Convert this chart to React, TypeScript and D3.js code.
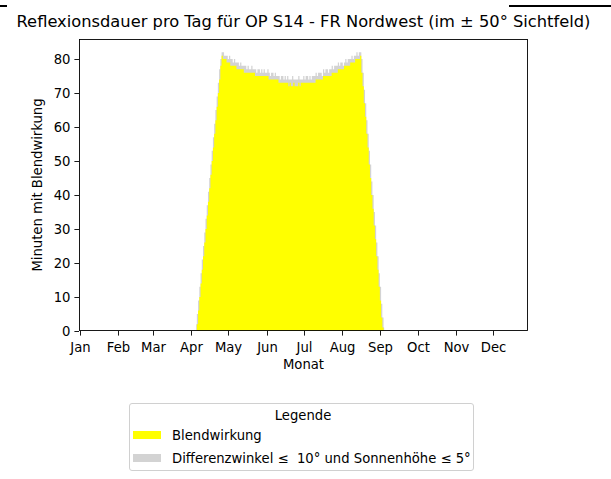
import * as d3 from "d3";

const title = "Reflexionsdauer pro Tag für OP S14 - FR Nordwest (im ± 50° Sichtfeld)";
const monthLabels = ["Jan", "Feb", "Mar", "Apr", "May", "Jun", "Jul", "Aug", "Sep", "Oct", "Nov", "Dec"];
const monthStartDays = [0, 31, 59, 90, 120, 151, 181, 212, 243, 273, 304, 334];
const yTicks = [0, 10, 20, 30, 40, 50, 60, 70, 80];

// minutes per day, first entry is day-of-year 94
const firstDay = 94;
const blendMinutes = [
    0, 2, 6, 10, 14, 18, 22, 26, 30, 34, 38, 42, 46, 50, 54, 58, 62, 66, 70, 74, 78, 81,
    80, 80, 80, 79, 79, 79, 78, 78, 78, 78, 78, 77, 77, 77, 77, 77, 77,
    76, 76, 76, 76, 76, 76, 76, 76, 76,
    75, 75, 75, 75, 75, 75, 75, 75, 75, 75, 75,
    74, 74, 74, 74, 74, 74, 74, 74,
    73, 73, 73, 73, 73, 73, 73, 73,
    72, 73, 72, 72, 73, 72, 72, 72, 73, 72, 73,
    73, 73, 73, 73, 73, 73, 73, 73, 73, 73, 73,
    74, 74, 74, 74, 74, 74,
    75, 75, 75, 75, 75, 75, 75,
    76, 76, 76, 76, 76,
    77, 77, 77, 77, 77,
    78, 78, 78, 78, 78,
    79, 79, 79, 79,
    80, 80, 80, 80,
    81,
    76, 72, 67, 63, 58, 54, 49, 45, 40, 36, 31, 27, 22, 18, 13, 9, 4, 1, 0
];
const angleMinutes = [
    2, 5, 9, 13, 17, 21, 25, 29, 33, 37, 41, 45, 49, 53, 57, 61, 65, 69, 73, 77, 80, 82,
    82, 81, 81, 81, 80, 81, 80, 80, 79, 80, 79, 79, 79, 78, 79, 78, 78,
    78, 78, 77, 78, 77, 77, 78, 77, 77,
    77, 76, 77, 77, 76, 77, 76, 77, 76, 76, 77,
    76, 75, 76, 76, 75, 76, 75, 75,
    75, 74, 75, 75, 74, 75, 74, 75,
    74, 74, 74, 75, 74, 74, 74, 74, 75, 74, 74,
    74, 75, 74, 75, 75, 74, 75, 74, 75, 75, 75,
    76, 75, 76, 76, 76, 75,
    77, 76, 77, 77, 76, 77, 77,
    78, 77, 78, 78, 78,
    79, 78, 79, 79, 78,
    79, 80, 79, 80, 80,
    80, 81, 80, 81,
    81, 82, 81, 82,
    82,
    80, 76, 71, 67, 62, 58, 53, 49, 44, 40, 35, 31, 26, 22, 17, 13, 8, 4, 1
];
const legendItems = [
    {label: "Blendwirkung", color: "#ffff00"},
    {label: "Differenzwinkel ≤  10° und Sonnenhöhe ≤ 5°", color: "#d3d3d3"}
];

const W = 611, H = 479;
const left = 79, right = 528, top = 39, bottom = 331;
const font = "DejaVu Sans, sans-serif";
const fs = 13.2;

export default function App() {
    const x = d3.scaleLinear([-0.8, 362.3], [left, right]);
    const y = d3.scaleLinear([0, 85.9], [bottom, top]);

    const area = d3.area<number>()
        .curve(d3.curveStep)
        .x((_, i) => x(firstDay + i))
        .y0(y(0))
        .y1(d => y(d));

    const dGrey = area(angleMinutes) ?? "";
    const dYellow = area(blendMinutes) ?? "";

    return <div style={{position: "absolute", left: 0, top: 0}}>
        <svg width={W} height={H} viewBox={`0 0 ${W} ${H}`} fontFamily={font}>
            <rect width={W} height={H} fill="#fff"/>
            <line x1={0} x2={7} y1={6} y2={6} stroke="#000" strokeWidth={2}/>
            <line x1={509} x2={W} y1={6} y2={6} stroke="#000" strokeWidth={2}/>
            <text x={(left + right) / 2} y={27} textAnchor="middle" fontSize={16.3} fill="#000">{title}</text>

            <path d={dGrey} fill="#d3d3d3"/>
            <path d={dYellow} fill="#ffff00"/>

            {/* frame */}
            <rect x={left + 0.5} y={top + 0.5} width={right - left - 1} height={bottom - top - 1}
                  fill="none" stroke="#000" strokeWidth={0.9}/>

            {yTicks.map(t => <g key={t} transform={`translate(0,${Math.round(y(t)) + 0.5})`}>
                <line x1={left - 4.6} x2={left} stroke="#000" strokeWidth={0.9}/>
                <text x={left - 8.5} dy="0.36em" textAnchor="end" fontSize={fs} fill="#000">{t}</text>
            </g>)}
            {monthStartDays.map((d, i) => <g key={d} transform={`translate(${Math.round(x(d)) + 0.5},${bottom})`}>
                <line y1={0} y2={4.6} stroke="#000" strokeWidth={0.9}/>
                <text y={20.5} textAnchor="middle" fontSize={fs} fill="#000">{monthLabels[i]}</text>
            </g>)}
            <text x={(left + right) / 2} y={369} textAnchor="middle" fontSize={fs} fill="#000">Monat</text>
            <text transform={`translate(42,${(top + bottom) / 2}) rotate(-90)`} textAnchor="middle"
                  fontSize={fs} fill="#000">Minuten mit Blendwirkung</text>

            {/* legend */}
            <rect x={129.5} y={403.5} width={344} height={67} rx={2.5} fill="#fff" fillOpacity={0.8}
                  stroke="#d0d0d0" strokeWidth={1}/>
            <text x={303} y={420} textAnchor="middle" fontSize={fs} fill="#000">Legende</text>
            {legendItems.map((item, i) => <g key={item.label} transform={`translate(0,${431 + i * 23})`}>
                <rect x={133} y={0} width={28} height={8} fill={item.color}/>
                <text x={172} y={9} fontSize={fs} fill="#000" style={{whiteSpace: "pre"}}>{item.label}</text>
            </g>)}
        </svg>
    </div>;
}
